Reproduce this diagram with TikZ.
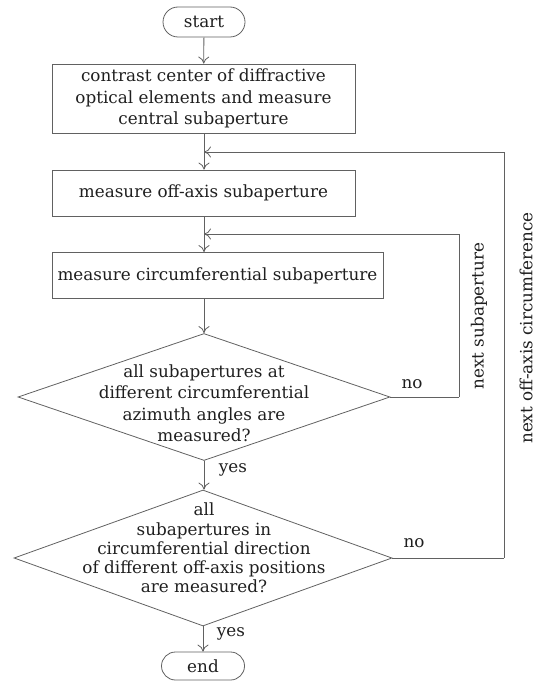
\documentclass[tikz,border=0pt]{standalone}
\usepackage{fontspec}
\setmainfont{DejaVu Serif}
\usetikzlibrary{shapes.geometric,shapes.misc,arrows.meta}
\begin{document}
\begin{tikzpicture}[x=1pt,y=-1pt,
  every node/.style={font=\fontsize{16.8}{21.5}\selectfont, text=black!88},
  ln/.style={draw=black!62, line width=0.8pt},
  arr/.style={ln, -{To[length=7pt,width=11pt]}},
  procbox/.style={ln, rectangle, inner sep=0pt, align=center},
  term/.style={ln, rounded rectangle, inner sep=0pt, minimum width=82pt, minimum height=30pt},
  dia/.style={ln, diamond, inner sep=0pt, aspect=1},
  lbl/.style={inner sep=0pt}]
\useasboundingbox (0,0) rectangle (538,682);
\node[term] (start) at (204,22) {start};
\node[procbox, minimum width=303pt, minimum height=69pt] (b1) at (203.5,98.5)
  {contrast center of diffractive\\optical elements and measure\\central subaperture};
\node[procbox, minimum width=303pt, minimum height=46pt] (b2) at (203.5,193)
  {measure off-axis subaperture};
\node[procbox, minimum width=331pt, minimum height=46pt] (b3) at (217.5,275.5)
  {measure circumferential subaperture};
\node[dia, minimum width=372pt, minimum height=127pt] (d1) at (204,397) {};
\node[lbl, align=center] (t1) at (204,403) {all subapertures at\\different circumferential\\azimuth angles are\\measured?};
\node[dia, minimum width=378pt, minimum height=136pt] (d2) at (203,558) {};
\node[lbl, align=center, font=\fontsize{16.8}{19.2}\selectfont] (t2) at (204,548) {all\\subapertures in\\circumferential direction\\of different off-axis positions\\are measured?};
\node[term, minimum width=83pt, minimum height=28pt] (end) at (203,666) {end};

\coordinate (j1) at (204,152);
\coordinate (j2) at (204,234);
\coordinate (r1) at (459,397);
\coordinate (r2) at (504,558);

\draw[arr] (start) -- (b1);
\draw[ln] (b1.south -| j1) -- (j1);
\draw[arr] (j1) -- (b2.north -| j1);
\draw[ln] (b2.south -| j2) -- (j2);
\draw[arr] (j2) -- (b3.north -| j2);
\draw[arr] (b3.south -| d1.north) -- (d1.north);
\draw[arr] (d1.south) -- (d2.north -| d1.south);
\draw[arr] (d2.south) -- (end.north -| d2.south);
\draw[ln] (d1.east) -- (r1);
\draw[arr] (r1) -- (r1 |- j2) -- (j2);
\draw[ln] (d2.east) -- (r2);
\draw[arr] (r2) -- (r2 |- j1) -- (j1);

\node[lbl] (no1) at (412,384) {no};
\node[lbl] (no2) at (414,543) {no};
\node[lbl] (yes1) at (233,470) {yes};
\node[lbl] (yes2) at (231,634) {yes};
\node[lbl, rotate=90] (ns) at (479,316) {next subaperture};
\node[lbl, rotate=90] (noc) at (526,328) {next off-axis circumference};
\end{tikzpicture}
\end{document}
